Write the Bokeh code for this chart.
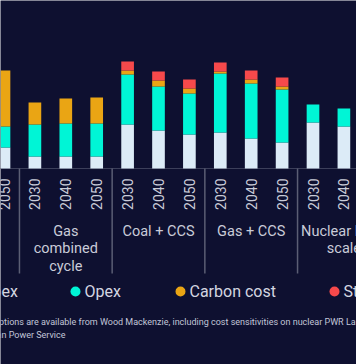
from bokeh.plotting import figure
from bokeh.models import ColumnDataSource, Range1d
from bokeh.core.properties import value
from bokeh.embed import file_html
from bokeh.resources import INLINE

# ---------------- data ----------------
groups = ["Coal", "Gas combined cycle", "Coal + CCS", "Gas + CCS", "Nuclear large scale"]
group_labels = ["Coal", "Gas\ncombined\ncycle", "Coal + CCS", "Gas + CCS", "Nuclear large\nscale"]
years = ["2030", "2040", "2050"]

bar_group = ["Coal",
             "Gas combined cycle", "Gas combined cycle", "Gas combined cycle",
             "Coal + CCS", "Coal + CCS", "Coal + CCS",
             "Gas + CCS", "Gas + CCS", "Gas + CCS",
             "Nuclear large scale", "Nuclear large scale"]
bar_year = ["2050",
            "2030", "2040", "2050",
            "2030", "2040", "2050",
            "2030", "2040", "2050",
            "2030", "2040"]
capex = [42, 24, 24, 24, 88, 76, 68, 72, 60, 52, 92, 84]
opex = [42, 64, 66, 66, 100, 88, 82, 118, 110, 106, 36, 36]
carbon_cost = [112, 44, 50, 52, 8, 12, 10, 4, 8, 6, 0, 0]
storage = [0, 0, 0, 0, 18, 18, 18, 18, 18, 18, 0, 0]

series = ["Capex", "Opex", "Carbon cost", "Storage"]
series_keys = ["capex", "opex", "carbon", "storage"]
colors = ["#dcebf7", "#00f5d6", "#eaa514", "#f6494b"]

note_line1 = "Full assumptions are available from Wood Mackenzie, including cost sensitivities on nuclear PWR Large-scale and SMRs"
note_line2 = "Source: Wood Mackenzie North American Power Service"

# ---------------- layout ----------------
W, H = 356, 364
BG = "#0e1030"
TXT = "#c9cbd8"
SEP = "#5b5e74"
BASE_PX = 168.0
PX_PER_UNIT = 0.5
BAR_PITCH = 30.9
FIRST_PX = 3.5

x_start = -FIRST_PX / BAR_PITCH
x_end = x_start + W / BAR_PITCH
y_end = BASE_PX / PX_PER_UNIT
y_start = -(H - BASE_PX) / PX_PER_UNIT


def X(px):
    return x_start + px / BAR_PITCH


def Y(py):
    return (BASE_PX - py) / PX_PER_UNIT


def pos(g, y):
    return 3 * groups.index(g) + years.index(y) - 2


xs = [pos(g, y) for g, y in zip(bar_group, bar_year)]
src = ColumnDataSource(dict(x=xs, capex=capex, opex=opex, carbon=carbon_cost, storage=storage,
                            year=bar_year))

p = figure(width=W, height=H, x_range=Range1d(x_start, x_end), y_range=Range1d(y_start, y_end),
           output_backend="svg", toolbar_location=None, min_border=0,
           x_axis_location=None, y_axis_location=None,
           background_fill_color=BG, border_fill_color=BG, outline_line_color=None)
p.grid.grid_line_color = None

# baseline
p.segment(x0=[x_start], x1=[x_end], y0=[0], y1=[0], line_color="#3c3f5a", line_width=1)

# bars
p.vbar_stack(series_keys, x="x", width=0.41, color=colors, line_width=0, source=src)

# year tick labels
p.text(x="x", y=Y(178), text="year", source=src, angle=1.5708,
       text_align="right", text_baseline="middle", text_color=TXT,
       text_font=value("Roboto"), text_font_size=value("14px"))

# group separators
seps = [3 * gi - 2.5 for gi in range(1, len(groups))]
p.segment(x0=seps, x1=seps, y0=[0] * len(seps), y1=[Y(273)] * len(seps),
          line_color=SEP, line_width=1.5)

# group labels
gx = [3 * gi - 1 for gi in range(len(groups))]
p.text(x=gx, y=[Y(222)] * len(gx), text=group_labels, text_align="center",
       text_baseline="top", text_color=TXT, text_line_height=1.05,
       text_font=value("Roboto"), text_font_size=value("14.5px"))

# legend
leg_px = [-36, 75, 180, 334]
p.scatter(x=[X(v) for v in leg_px], y=[Y(291)] * 4, size=10, marker="circle",
          color=colors, line_width=0)
p.text(x=[X(v + 9) for v in leg_px], y=[Y(291)] * 4, text=series, text_align="left",
       text_baseline="middle", text_color="#d4d6e0",
       text_font=value("Roboto"), text_font_size=value("16px"))

# footnote
p.text(x=[X(-45)], y=[Y(321)], text=[note_line1],
       text_align="left", text_baseline="middle", text_color="#c2c6d8",
       text_font=value("Roboto"), text_font_size=value("9px"))
p.text(x=[X(65)], y=[Y(334)], text=[note_line2],
       text_align="right", text_baseline="middle", text_color="#c2c6d8",
       text_font=value("Roboto"), text_font_size=value("9px"))

open("out.html", "w").write(file_html(p, INLINE))
